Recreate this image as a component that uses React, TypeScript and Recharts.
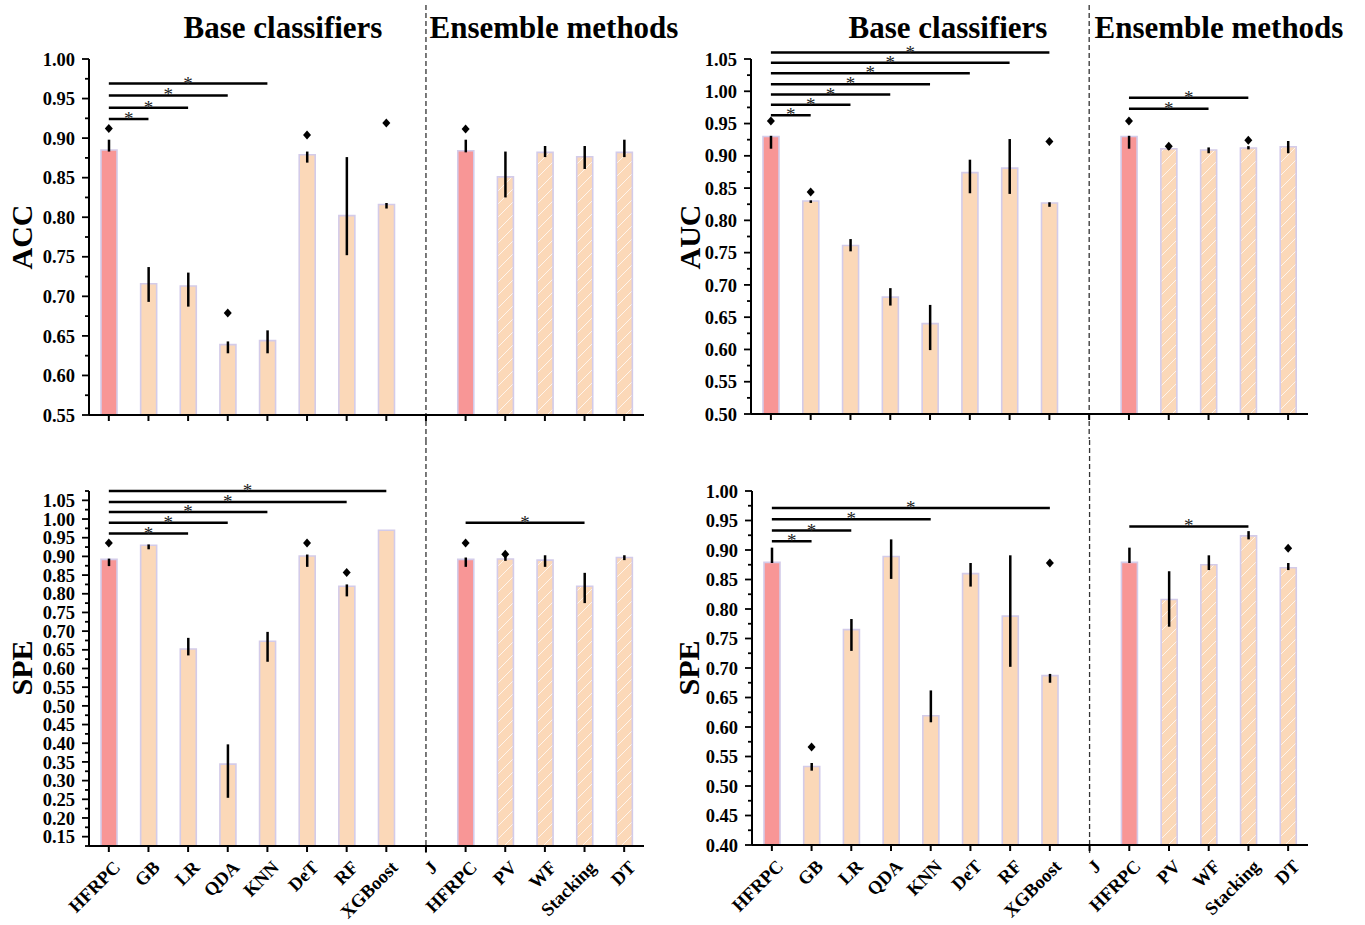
import React from 'react';
import { ComposedChart, Bar, Line, XAxis, YAxis, ErrorBar, ReferenceLine, Cell } from 'recharts';

const FONT = "'Times New Roman', 'Liberation Serif', serif";

const categories = ['HFRPC', 'GB', 'LR', 'QDA', 'KNN', 'DeT', 'RF', 'XGBoost', 'J', 'HFRPC', 'PV', 'WF', 'Stacking', 'DT'];

// ACC panel
const accValues = [0.885, 0.716, 0.713, 0.639, 0.644, 0.879, 0.802, 0.816, null, 0.884, 0.851, 0.882, 0.8765, 0.882];
const accErrors = [[0.002, 0.013], [0.023, 0.021], [0.026, 0.017], [0.011, 0.004], [0.016, 0.013], [0.010, 0.004], [0.050, 0.074], [0.005, 0.002], null, [0.002, 0.014], [0.026, 0.032], [0.006, 0.008], [0.0155, 0.0135], [0.006, 0.016]];
const accDiamonds = [0.912, null, null, 0.679, null, 0.904, null, 0.919, null, 0.9115, null, null, null, null];
const accSig = [[0, 1, 0.924], [0, 2, 0.9385], [0, 3, 0.954], [0, 4, 0.969]];

// AUC panel
const aucValues = [0.930, 0.830, 0.761, 0.681, 0.640, 0.874, 0.881, 0.827, null, 0.930, 0.911, 0.909, 0.912, 0.914];
const aucErrors = [[0.019, 0.001], [0.003, 0.001], [0.009, 0.010], [0.013, 0.014], [0.041, 0.029], [0.032, 0.020], [0.040, 0.045], [0.006, 0.001], null, [0.019, 0.001], [0.002, 0.003], [0.005, 0.004], [0.002, 0.003], [0.010, 0.009]];
const aucDiamonds = [0.954, 0.844, null, null, null, null, null, 0.922, null, 0.954, 0.915, null, 0.924, null];
const aucSig = [[0, 1, 0.963], [0, 2, 0.979], [0, 3, 0.995], [0, 4, 1.011], [0, 5, 1.028], [0, 6, 1.044], [0, 7, 1.060], [9, 11, 0.973], [9, 12, 0.990]];

// SPE panel (left)
const speLValues = [0.892, 0.930, 0.652, 0.344, 0.673, 0.901, 0.820, 0.970, null, 0.892, 0.893, 0.890, 0.820, 0.897];
const speLErrors = [[0.018, 0.002], [0.011, 0.002], [0.017, 0.030], [0.090, 0.053], [0.055, 0.025], [0.029, 0.004], [0.027, 0.005], [0, 0], null, [0.020, 0.005], [0.005, 0.007], [0.018, 0.013], [0.045, 0.036], [0.007, 0.006]];
const speLDiamonds = [0.936, null, null, null, null, 0.936, 0.857, null, null, 0.936, 0.906, null, null, null];
const speLSig = [[0, 2, 0.961], [0, 3, 0.990], [0, 4, 1.019], [0, 6, 1.0455], [0, 7, 1.075], [9, 12, 0.990]];

// SPE panel (right)
const speRValues = [0.879, 0.533, 0.765, 0.889, 0.619, 0.860, 0.788, 0.687, null, 0.879, 0.816, 0.875, 0.924, 0.870];
const speRErrors = [[0.001, 0.025], [0.007, 0.006], [0.036, 0.018], [0.038, 0.029], [0.011, 0.043], [0.022, 0.018], [0.086, 0.103], [0.012, 0.003], null, [0.001, 0.025], [0.046, 0.048], [0.009, 0.016], [0.006, 0.008], [0.004, 0.008]];
const speRDiamonds = [null, 0.566, null, null, null, null, null, 0.878, null, null, null, null, null, 0.903];
const speRSig = [[0, 1, 0.915], [0, 2, 0.933], [0, 4, 0.952], [0, 7, 0.971], [9, 12, 0.940]];

const makeTicks = (min: number, max: number) => {
  const out: number[] = [];
  const n = Math.round((max - min) / 0.025);
  for (let i = 0; i <= n; i++) out.push(Math.round((min + i * 0.025) * 1000) / 1000);
  return out;
};

const RED = '#f89696';
const PEACH = '#fbd8b8';
const EDGE = '#d3cbe9';

const isMajor = (v: number) => Math.abs(v * 20 - Math.round(v * 20)) < 1e-6;

const TICK_SIZE = 8;
const TICK_MARGIN = 6;

const YTick = (props: any) => {
  const { x, y, payload } = props;
  const v = payload.value as number;
  const axisX = x + TICK_SIZE + TICK_MARGIN;
  const major = isMajor(v);
  return (
    <g>
      <line x1={axisX - (major ? 7 : 4)} x2={axisX} y1={y} y2={y} stroke="#000" strokeWidth={1.8} />
      {major && (
        <text x={axisX - 14} y={y} dy="0.36em" textAnchor="end" fontFamily={FONT} fontWeight="bold" fontSize={18.5} fill="#000">
          {v.toFixed(2)}
        </text>
      )}
    </g>
  );
};

const XTickLabel = (props: any) => {
  const { x, y, payload } = props;
  const label = String(payload.value).split('|')[1];
  return (
    <g transform={`translate(${x + 8},${y + 10})`}>
      <text textAnchor="end" transform="rotate(-45)" dy="0.35em" fontFamily={FONT} fontWeight="bold" fontSize={18.5} fill="#000">
        {label}
      </text>
    </g>
  );
};

const EmptyTick = () => <g />;

const StarLabel = (props: any) => {
  const vb = props.viewBox || {};
  const cx = (vb.x ?? 0) + (vb.width ?? 0) / 2;
  const cy = vb.y ?? 0;
  return (
    <text x={cx} y={cy + 6} textAnchor="middle" fontFamily={FONT} fontSize={19} fill="#222" stroke="none">
      *
    </text>
  );
};

const Diamond = (props: any) => {
  const { cx, cy, value, index } = props;
  if (value == null || cx == null || cy == null || isNaN(cy)) return <g key={`d${index}`} />;
  return <path key={`d${index}`} d={`M${cx},${cy - 4.5}L${cx + 4},${cy}L${cx},${cy + 4.5}L${cx - 4},${cy}Z`} fill="#000" />;
};

type PanelProps = {
  pid: string;
  values: (number | null)[];
  errors: (number[] | null)[];
  diamonds: (number | null)[];
  sigs: number[][];
  domain: [number, number];
  left: number;
  top: number;
  width: number;
  height: number;
  marginTop: number;
  marginRight: number;
  yAxisWidth: number;
  xAxisHeight: number;
  showLabels: boolean;
  sepTop: number;
  sepBottom: number;
};

const Panel = (p: PanelProps) => {
  const data = categories.map((c, i) => ({
    id: `${i}|${c}`,
    v: p.values[i],
    err: p.errors[i],
    dia: p.diamonds[i],
  }));
  const ticks = makeTicks(p.domain[0], p.domain[1]);
  const hatchId = `hatch-${p.pid}`;
  const fillFor = (i: number) => (categories[i] === 'HFRPC' ? RED : i > 8 ? `url(#${hatchId})` : PEACH);
  return (
    <div style={{ position: 'absolute', left: p.left, top: p.top, width: p.width, height: p.height }}>
      <ComposedChart
        width={p.width}
        height={p.height}
        data={data}
        margin={{ top: p.marginTop, right: p.marginRight, bottom: 0, left: 0 }}
        style={{ overflow: 'visible' }}
      >
        <defs>
          <pattern id={hatchId} patternUnits="userSpaceOnUse" width={13} height={13}>
            <rect width={13} height={13} fill={PEACH} />
            <path d="M0,13 L13,0 M-3,3 L3,-3 M10,16 L16,10" stroke="#ffffff" strokeWidth={1} strokeOpacity={0.75} />
          </pattern>
        </defs>
        <XAxis
          dataKey="id"
          type="category"
          interval={0}
          height={p.xAxisHeight}
          tickSize={6}
          tickLine={{ stroke: '#000', strokeWidth: 2 }}
          axisLine={{ stroke: '#000', strokeWidth: 2 }}
          tick={p.showLabels ? <XTickLabel /> : <EmptyTick />}
        />
        <YAxis
          type="number"
          domain={p.domain}
          allowDataOverflow
          ticks={ticks}
          interval={0}
          width={p.yAxisWidth}
          tickSize={TICK_SIZE}
          tickMargin={TICK_MARGIN}
          tickLine={false}
          axisLine={{ stroke: '#000', strokeWidth: 2 }}
          tick={<YTick />}
        />
        <Bar dataKey="v" barSize={16} stroke={EDGE} strokeWidth={1.6} isAnimationActive={false}>
          {data.map((d, i) => (
            <Cell key={d.id} fill={fillFor(i)} />
          ))}
          <ErrorBar dataKey="err" width={0} strokeWidth={2.5} stroke="#000" direction="y" />
        </Bar>
        <Line dataKey="dia" stroke="none" dot={<Diamond />} activeDot={false} legendType="none" isAnimationActive={false} />
        <ReferenceLine
          x={data[8].id}
          ifOverflow="visible"
          shape={(lp: any) => (
            <line
              x1={lp.x1}
              x2={lp.x2}
              y1={Math.min(lp.y1, lp.y2) - p.sepTop}
              y2={Math.max(lp.y1, lp.y2) + p.sepBottom}
              stroke="#333"
              strokeWidth={1.3}
              strokeDasharray="5 3"
            />
          )}
        />
        {p.sigs.map(([a, b, y], k) => (
          <ReferenceLine
            key={`s${k}`}
            segment={[{ x: data[a].id, y }, { x: data[b].id, y }]}
            stroke="#000"
            strokeWidth={2.5}
            ifOverflow="visible"
            label={<StarLabel />}
          />
        ))}
      </ComposedChart>
    </div>
  );
};

const titleStyle = { fontFamily: FONT, fontWeight: 'bold' as const, fontSize: 31, fill: '#000' };
const axisTitleStyle = { fontFamily: FONT, fontWeight: 'bold' as const, fontSize: 30, fill: '#000' };

export default function App() {
  return (
    <div style={{ position: 'absolute', left: 0, top: 0, width: 1365, height: 925, background: '#fff', overflow: 'hidden' }}>
      <Panel pid="tl" values={accValues} errors={accErrors} diamonds={accDiamonds} sigs={accSig} domain={[0.55, 1.0]}
        left={0} top={0} width={682} height={460} marginTop={59} marginRight={38} yAxisWidth={89} xAxisHeight={45}
        showLabels={false} sepTop={54} sepBottom={25} />
      <Panel pid="tr" values={aucValues} errors={aucErrors} diamonds={aucDiamonds} sigs={aucSig} domain={[0.5, 1.05]}
        left={663} top={0} width={702} height={460} marginTop={59} marginRight={57} yAxisWidth={88} xAxisHeight={46}
        showLabels={false} sepTop={54} sepBottom={25} />
      <Panel pid="bl" values={speLValues} errors={speLErrors} diamonds={speLDiamonds} sigs={speLSig} domain={[0.125, 1.075]}
        left={0} top={440} width={682} height={485} marginTop={51} marginRight={38} yAxisWidth={89} xAxisHeight={79}
        showLabels={true} sepTop={51} sepBottom={8} />
      <Panel pid="br" values={speRValues} errors={speRErrors} diamonds={speRDiamonds} sigs={speRSig} domain={[0.4, 1.0]}
        left={663} top={440} width={702} height={485} marginTop={51} marginRight={57} yAxisWidth={89} xAxisHeight={80}
        showLabels={true} sepTop={51} sepBottom={8} />
      <svg width={1365} height={925} style={{ position: 'absolute', left: 0, top: 0, pointerEvents: 'none' }}>
        <text x={283} y={38} textAnchor="middle" {...titleStyle}>Base classifiers</text>
        <text x={554} y={38} textAnchor="middle" {...titleStyle}>Ensemble methods</text>
        <text x={948} y={38} textAnchor="middle" {...titleStyle}>Base classifiers</text>
        <text x={1219} y={38} textAnchor="middle" {...titleStyle}>Ensemble methods</text>
        <text x={32} y={237} textAnchor="middle" transform="rotate(-90, 32, 237)" {...axisTitleStyle}>ACC</text>
        <text x={700} y={237} textAnchor="middle" transform="rotate(-90, 700, 237)" {...axisTitleStyle}>AUC</text>
        <text x={32} y={668} textAnchor="middle" transform="rotate(-90, 32, 668)" {...axisTitleStyle}>SPE</text>
        <text x={699} y={668} textAnchor="middle" transform="rotate(-90, 699, 668)" {...axisTitleStyle}>SPE</text>
      </svg>
    </div>
  );
}
